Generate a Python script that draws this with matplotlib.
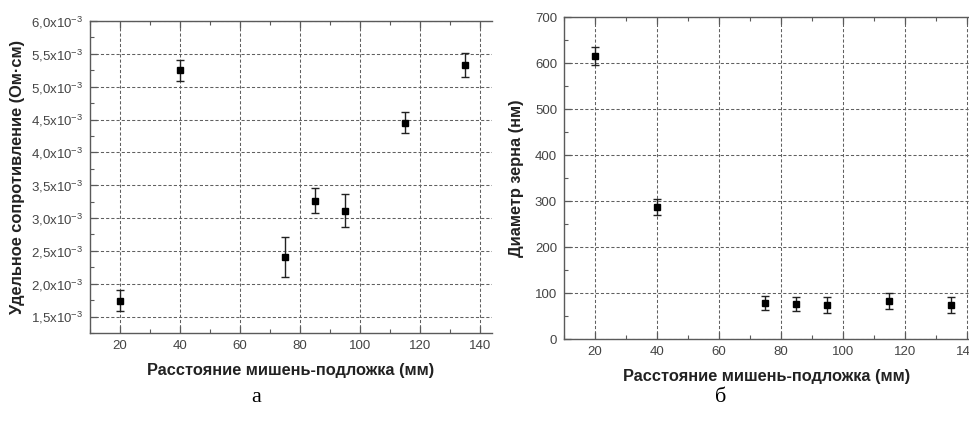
import matplotlib
matplotlib.use("Agg")
import matplotlib.pyplot as plt
from matplotlib.ticker import MultipleLocator, FixedLocator

plt.rcParams['font.family'] = ['Liberation Sans', 'DejaVu Sans']
plt.rcParams['mathtext.fontset'] = 'custom'
plt.rcParams['mathtext.rm'] = 'Liberation Sans'

# Data
distance = [20, 40, 75, 85, 95, 115, 135]
resistivity = [1.74e-3, 5.25e-3, 2.41e-3, 3.26e-3, 3.11e-3, 4.45e-3, 5.33e-3]
resistivity_err = [0.16e-3, 0.16e-3, 0.30e-3, 0.19e-3, 0.25e-3, 0.16e-3, 0.18e-3]
grain = [615, 287, 78, 76, 74, 82, 74]
grain_err = [20, 17, 15, 15, 17, 17, 18]

x_ticks = [20, 40, 60, 80, 100, 120, 140]
res_ticks = [1.5e-3, 2.0e-3, 2.5e-3, 3.0e-3, 3.5e-3, 4.0e-3, 4.5e-3, 5.0e-3, 5.5e-3, 6.0e-3]
res_tick_labels = [r'1,5x10$^{-3}$', r'2,0x10$^{-3}$', r'2,5x10$^{-3}$', r'3,0x10$^{-3}$',
                   r'3,5x10$^{-3}$', r'4,0x10$^{-3}$', r'4,5x10$^{-3}$', r'5,0x10$^{-3}$',
                   r'5,5x10$^{-3}$', r'6,0x10$^{-3}$']
grain_ticks = [0, 100, 200, 300, 400, 500, 600, 700]

xlabel = 'Расстояние мишень-подложка (мм)'
ylabel_a = 'Удельное сопротивление (Ом·см)'
ylabel_b = 'Диаметр зерна (нм)'

W, H = 970, 421
fig = plt.figure(figsize=(W / 100, H / 100), dpi=100)

def box(l, t, r, b):
    return [l / W, 1 - b / H, (r - l) / W, (b - t) / H]

ax1 = fig.add_axes(box(90, 21, 492, 333))
ax2 = fig.add_axes(box(564, 17, 970, 339))

spine_c = '#5a5a5a'
tick_c = '#444444'
label_fs = 11.8

def style(ax):
    for s in ['left', 'bottom', 'top']:
        ax.spines[s].set_color(spine_c)
        ax.spines[s].set_linewidth(1.0)
    ax.spines['right'].set_visible(False)
    ax.tick_params(which='both', direction='in', top=True, right=False, color=spine_c)
    ax.tick_params(which='major', length=5, width=0.9, labelsize=9.5, labelcolor=tick_c, pad=5)
    ax.tick_params(which='minor', length=3, width=0.8)
    ax.grid(True, which='major', linestyle=(0, (3, 2)), color='#606060', linewidth=0.75)
    ax.set_axisbelow(True)
    ax.xaxis.set_major_locator(FixedLocator(x_ticks))
    ax.set_xticklabels([str(v) for v in x_ticks])
    ax.xaxis.set_minor_locator(MultipleLocator(10))
    ax.set_xlabel(xlabel, fontsize=label_fs, fontweight='bold', color='#222222', labelpad=8)

# Panel a
ax1.errorbar(distance, resistivity, yerr=resistivity_err, fmt='s', color='black',
             markersize=5, ecolor='#222222', elinewidth=1.0, capsize=3, capthick=1.0)
style(ax1)
ax1.set_xlim(10, 144)
ax1.set_ylim(1.25e-3, 6.0e-3)
ax1.yaxis.set_major_locator(FixedLocator(res_ticks))
ax1.set_yticklabels(res_tick_labels)
ax1.yaxis.set_minor_locator(MultipleLocator(0.25e-3))
ax1.set_ylabel(ylabel_a, fontsize=label_fs, fontweight='bold', color='#222222', labelpad=4)

# Panel b
ax2.errorbar(distance, grain, yerr=grain_err, fmt='s', color='black',
             markersize=5, ecolor='#222222', elinewidth=1.0, capsize=3, capthick=1.0)
style(ax2)
ax2.set_xlim(10, 141)
ax2.set_ylim(0, 700)
ax2.yaxis.set_major_locator(FixedLocator(grain_ticks))
ax2.set_yticklabels([str(v) for v in grain_ticks])
ax2.yaxis.set_minor_locator(MultipleLocator(50))
ax2.set_ylabel(ylabel_b, fontsize=label_fs, fontweight='bold', color='#222222', labelpad=8)

fig.text(256 / W, 1 - 398 / H, 'а', family=['Liberation Serif', 'DejaVu Serif'],
         fontsize=16, ha='center', va='center')
fig.text(721 / W, 1 - 398 / H, 'б', family=['Liberation Serif', 'DejaVu Serif'],
         fontsize=16, ha='center', va='center')

fig.savefig('out.png', dpi=100)
